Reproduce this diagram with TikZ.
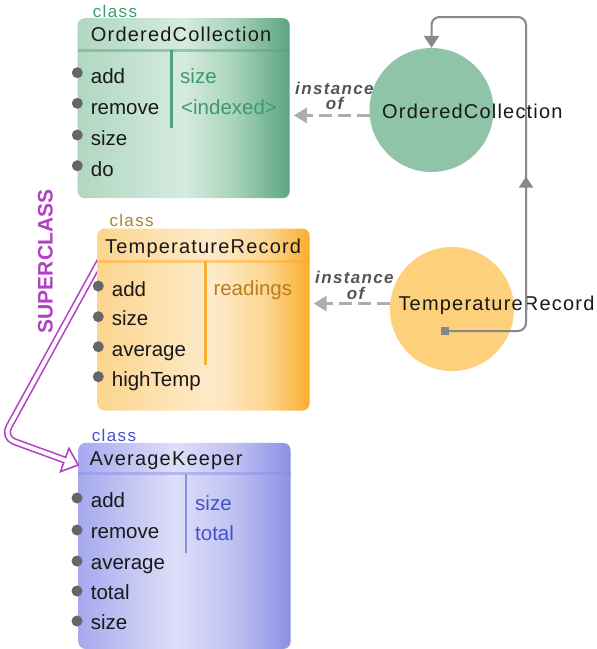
\documentclass[tikz,border=0pt]{standalone}
\usepackage{fontspec}
\setmainfont{Liberation Sans}
\newfontfamily\spacedfont{Liberation Sans}[LetterSpace=8]
\newfontfamily\headfont{Liberation Sans}[LetterSpace=6]
\usetikzlibrary{arrows.meta,calc,decorations.markings}
\definecolor{gA}{HTML}{B0D7C1}\definecolor{gB}{HTML}{D5EBDF}\definecolor{gC}{HTML}{A8D3BB}\definecolor{gD}{HTML}{5AA57F}
\definecolor{gCirc}{HTML}{90C4A8}\definecolor{gText}{HTML}{3D9A6B}\definecolor{gDiv}{HTML}{4FA277}
\definecolor{oA}{HTML}{FCD58E}\definecolor{oB}{HTML}{FEEBCB}\definecolor{oC}{HTML}{FDD590}\definecolor{oD}{HTML}{FAAE2D}
\definecolor{oCirc}{HTML}{FDD07B}\definecolor{oText}{HTML}{B5801F}\definecolor{oDiv}{HTML}{F7AE33}
\definecolor{bA}{HTML}{A6A9EE}\definecolor{bB}{HTML}{DEDFF9}\definecolor{bC}{HTML}{BEC0F2}\definecolor{bD}{HTML}{8D90E6}
\definecolor{bText}{HTML}{4152CC}\definecolor{bDiv}{HTML}{8C92E2}
\definecolor{dotcol}{HTML}{666666}\definecolor{instcol}{HTML}{555555}
\definecolor{arrcol}{HTML}{ADADAD}\definecolor{loopcol}{HTML}{888888}
\definecolor{supcol}{HTML}{B23FC6}
\pgfdeclarehorizontalshading{gshade}{100bp}{color(0bp)=(gA); color(25bp)=(gA); color(50bp)=(gB); color(62bp)=(gC); color(75bp)=(gD); color(100bp)=(gD)}
\pgfdeclarehorizontalshading{oshade}{100bp}{color(0bp)=(oA); color(25bp)=(oA); color(52bp)=(oB); color(65bp)=(oC); color(75bp)=(oD); color(100bp)=(oD)}
\pgfdeclarehorizontalshading{bshade}{100bp}{color(0bp)=(bA); color(25bp)=(bA); color(48bp)=(bB); color(62bp)=(bC); color(75bp)=(bD); color(100bp)=(bD)}
\begin{document}
\begin{tikzpicture}[x=1pt,y=-1pt,
  classbox/.style={rectangle, rounded corners=7pt, anchor=north west, inner sep=0pt, draw=none},
  gbox/.style={classbox, shading=gshade},
  obox/.style={classbox, shading=oshade},
  bbox/.style={classbox, shading=bshade},
  mtext/.style={anchor=base west, inner sep=0pt, font=\fontsize{20.5}{24}\selectfont, text=black!90},
  htext/.style={anchor=base west, inner sep=0pt, font=\fontsize{20}{24}\headfont, text=black!90},
  clabel/.style={anchor=base west, inner sep=0pt, font=\fontsize{17}{20}\spacedfont},
  mdot/.style={circle, fill=dotcol, minimum size=11pt, inner sep=0pt},
  instlabel/.style={anchor=base west, inner sep=0pt, font=\fontsize{17}{20}\spacedfont\bfseries\itshape, text=instcol},
  inst/.style={draw=arrcol, line width=3pt, dash pattern=on 13pt off 6pt, -{Triangle[length=13pt,width=15pt]}, shorten >=4pt},
  sepline/.style={line width=3pt, opacity=0.5},
  divline/.style={line width=2.5pt},
  loopline/.style={draw=loopcol, line width=2pt, rounded corners=8pt, -{Triangle[length=12pt,width=15pt]}},
  supline/.style={draw=supcol, line width=1.6pt, double=white, double distance=4pt, rounded corners=12pt}
]
\useasboundingbox (0,0) rectangle (597,649);

% superclass shaft (beneath boxes)
\coordinate (supA) at (101,259);
\coordinate (supcorner) at (3,437.5);
\coordinate (suptip) at (78.3,465);
\coordinate (supbase) at (64.7,460);
\coordinate (supb1) at (60.5,471.6);
\coordinate (supb2) at (68.9,448.4);
\draw[supline] (supA) -- (supcorner) -- (supbase);

% class boxes
\node[gbox, minimum width=212pt, minimum height=180pt] (ocbox) at (77.5,18) {};
\node[obox, minimum width=212pt, minimum height=182pt] (trbox) at (97.3,228.3) {};
\node[bbox, minimum width=212pt, minimum height=206pt] (akbox) at (78.3,442.7) {};

% header separators and dividers
\draw[sepline, draw=gD] (ocbox.west |- 0,50) -- (ocbox.east |- 0,50);
\draw[divline, draw=gDiv] (171.7,50) -- (171.7,128);
\draw[sepline, draw=oD] (trbox.west |- 0,261) -- (trbox.east |- 0,261);
\draw[divline, draw=oDiv] (205.7,261) -- (205.7,365);
\draw[sepline, draw=bD] (akbox.west |- 0,473.5) -- (akbox.east |- 0,473.5);
\draw[divline, draw=bDiv] (186,473.5) -- (186,553);

% class labels and headers
\node[clabel, text=gText] (oc-cl) at (92.7,17) {class};
\node[htext] (oc-h) at (90.7,41.7) {OrderedCollection};
\node[clabel, text=oText] (tr-cl) at (109.3,226.7) {class};
\node[htext] (tr-h) at (105,253.3) {TemperatureRecord};
\node[clabel, text=bText] (ak-cl) at (91.7,441.7) {class};
\node[htext] (ak-h) at (89.3,465.7) {AverageKeeper};

% OrderedCollection methods
\node[mdot] (oc-d1) at (77.3,72.7) {};
\node[mdot] (oc-d2) at (77.3,103.3) {};
\node[mdot] (oc-d3) at (77.3,135) {};
\node[mdot] (oc-d4) at (77.3,165.7) {};
\node[mtext] (oc-m1) at (90.7,83.3) {add};
\node[mtext] (oc-m2) at (90.7,114) {remove};
\node[mtext] (oc-m3) at (90.7,145.5) {size};
\node[mtext] (oc-m4) at (90.7,176) {do};
\node[mtext, text=gText] (oc-a1) at (180,83.3) {size};
\node[mtext, text=gText] (oc-a2) at (181,114) {<indexed>};

% TemperatureRecord methods
\node[mdot] (tr-d1) at (98.3,286) {};
\node[mdot] (tr-d2) at (98.3,316.7) {};
\node[mdot] (tr-d3) at (98.3,346.7) {};
\node[mdot] (tr-d4) at (98.3,376.7) {};
\node[mtext] (tr-m1) at (111.7,296) {add};
\node[mtext] (tr-m2) at (111.7,325.5) {size};
\node[mtext] (tr-m3) at (111.7,356) {average};
\node[mtext] (tr-m4) at (111.7,386) {highTemp};
\node[mtext, text=oText] (tr-a1) at (213.3,295) {readings};

% AverageKeeper methods
\node[mdot] (ak-d1) at (77,498) {};
\node[mdot] (ak-d2) at (77,530) {};
\node[mdot] (ak-d3) at (77,561) {};
\node[mdot] (ak-d4) at (77,591) {};
\node[mdot] (ak-d5) at (77,621) {};
\node[mtext] (ak-m1) at (90.7,507.5) {add};
\node[mtext] (ak-m2) at (90.7,538.5) {remove};
\node[mtext] (ak-m3) at (90.7,569) {average};
\node[mtext] (ak-m4) at (90.7,599.5) {total};
\node[mtext] (ak-m5) at (90.7,629.5) {size};
\node[mtext, text=bText] (ak-a1) at (195,510) {size};
\node[mtext, text=bText] (ak-a2) at (195,540) {total};

% superclass arrowhead
\draw[draw=supcol, line width=1.6pt, fill=white, line join=miter] (supb1) -- (suptip) -- (supb2) -- cycle;
\draw[white, line width=3.8pt] ($(supbase)+(-2.5,-0.9)$) -- ($(supbase)+(2.5,0.9)$);
\node[rotate=90, inner sep=0pt, font=\fontsize{21}{24}\selectfont\bfseries, text=supcol] (suplabel) at (45.5,261.5) {SUPERCLASS};

% instances
\node[circle, fill=gCirc, minimum size=124pt, inner sep=0pt] (occirc) at (431.5,110) {};
\node[circle, fill=oCirc, minimum size=124pt, inner sep=0pt] (trcirc) at (452,309) {};
\node[htext] (occirc-t) at (382,118.3) {OrderedCollection};
\node[htext] (trcirc-t) at (398.3,310) {TemperatureRecord};

% instance-of arrows
\draw[inst] (occirc.185) -- (ocbox.east |- occirc.185);
\draw[inst] (trcirc.175) -- (trbox.east |- trcirc.175);
\node[instlabel] (il1a) at (295,94) {instance};
\node[instlabel] (il1b) at (325.7,109.5) {of};
\node[instlabel] (il2a) at (315,283.3) {instance};
\node[instlabel] (il2b) at (346.7,299) {of};

% class-of loop
\node[fill=loopcol, minimum size=8pt, inner sep=0pt] (sq) at (445,331) {};
\coordinate (loopc) at (526,17);
\draw[loopline, postaction={decorate}, decoration={markings, mark=at position 232pt with {\arrow{Triangle[length=11pt,width=14pt]}}}]
  (sq.center) -| (loopc) -| (occirc.north);
\end{tikzpicture}
\end{document}
